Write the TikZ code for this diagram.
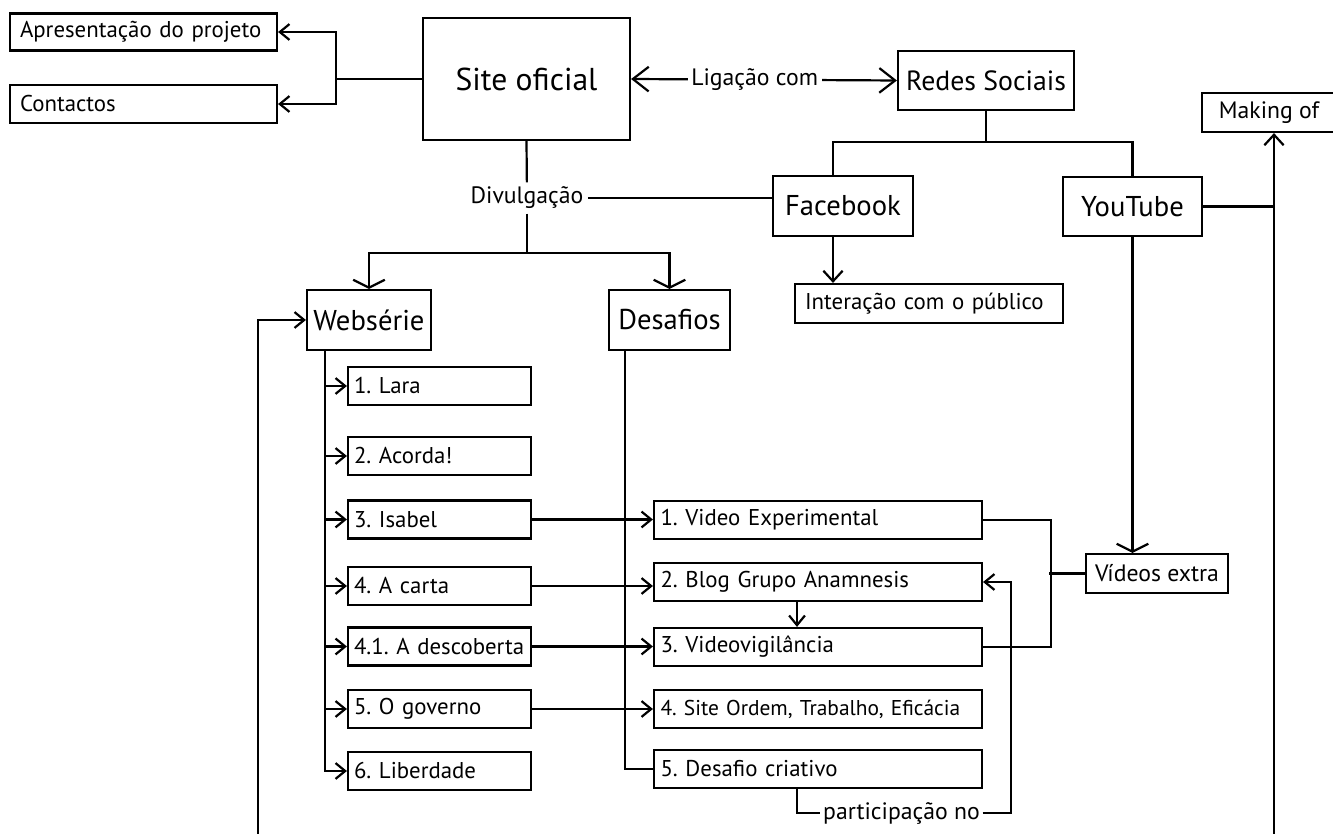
\documentclass[tikz,border=0pt]{standalone}
\usepackage{fontspec}
\setmainfont{PT Sans}
\usetikzlibrary{arrows.meta}
\frenchspacing

\begin{document}
\begin{tikzpicture}[
    x=0.02cm, y=-0.02cm,
    line width=1.25pt,
    font=\fontsize{13.5}{16}\selectfont,
    box/.style={draw, rectangle, inner sep=0pt, minimum height=0.76cm, align=center},
    leftbox/.style={box, font=\fontsize{13}{16}\selectfont, text width=#1, align=left, inner xsep=0.12cm},
    bigbox/.style={box, font=\fontsize{16.3}{20}\selectfont, minimum height=1.2cm},
    lbl/.style={inner sep=2pt, fill=white},
    edge/.style={-{Straight Barb[length=5.5pt,width=9pt]}},
    midedge/.style={-{Straight Barb[length=6pt,width=11pt]}},
    bigedge/.style={-{Straight Barb[length=9pt,width=14pt]}},
    flatedge/.style={-{Straight Barb[length=4.5pt,width=18pt]}}
]
\useasboundingbox (0,0) rectangle (1333,834);

% top row
\node[leftbox=4.94cm, inner xsep=0.2cm, minimum height=0.74cm] (apres) at (143.5,32) {Apresentação do projeto};
\node[leftbox=4.94cm, inner xsep=0.2cm] (cont) at (143.5,104) {Contactos};
\node[box, font=\fontsize{18}{22}\selectfont, minimum width=4.14cm, minimum height=2.44cm] (site) at (526.5,79) {Site oficial};
\node[bigbox, font=\fontsize{15.8}{20}\selectfont, minimum width=3.52cm, minimum height=1.18cm] (redes) at (986,80.5) {Redes Sociais};
\node[bigbox, minimum width=2.8cm] (fb) at (843,206) {Facebook};
\node[bigbox, minimum width=2.78cm, minimum height=1.18cm] (yt) at (1132.5,206.5) {YouTube};
\node[box, minimum width=2.68cm, minimum height=0.78cm] (making) at (1269,112.5) {Making of};
\node[leftbox=4.96cm, inner xsep=0.2cm, minimum height=0.78cm] (inter) at (929,303.5) {Interação com o público};
\node[lbl] (divulg) at (527,198) {Divulgação};

% webserie and desafios
\node[bigbox, minimum width=2.48cm] (web) at (369,320) {Websérie};
\node[bigbox, minimum width=2.42cm] (des) at (669.5,320) {Desafios};

\node[leftbox=3.42cm] (ep1) at (439.5,386) {1. Lara};
\node[leftbox=3.42cm] (ep2) at (439.5,456) {2. Acorda!};
\node[leftbox=3.42cm] (ep3) at (439.5,519.5) {3. Isabel};
\node[leftbox=3.42cm] (ep4) at (439.5,586) {4. A carta};
\node[leftbox=3.42cm] (ep41) at (439.5,646.5) {4.1. A descoberta};
\node[leftbox=3.42cm] (ep5) at (439.5,709) {5. O governo};
\node[leftbox=3.42cm] (ep6) at (439.5,771) {6. Liberdade};

\node[leftbox=6.3cm, inner xsep=0.13cm] (ch1) at (818,520) {1. Video Experimental};
\node[leftbox=6.3cm, inner xsep=0.13cm] (ch2) at (818,582) {2. Blog Grupo Anamnesis};
\node[leftbox=6.3cm, inner xsep=0.13cm] (ch3) at (818,647) {3. Videovigilância};
\node[leftbox=6.3cm, inner xsep=0.13cm, font=\fontsize{12.2}{15}\selectfont] (ch4) at (818,709) {4. Site Ordem, Trabalho, Eficácia};
\node[leftbox=6.3cm, inner xsep=0.13cm] (ch5) at (818,769) {5. Desafio criativo};
\node[box, minimum width=2.84cm, minimum height=0.78cm] (vext) at (1157,573.5) {Vídeos extra};
\node[inner sep=1pt] (part) at (901.5,813) {participação no};

\coordinate (loopbot) at (258,834);
\coordinate (mkbot) at (1274,834);
\coordinate (divbr) at (527,253);
\coordinate (fbk) at (1011,813);

% site oficial
\draw (site.west) -- ++(-86,0) coordinate (sitebr);
\draw[edge] (sitebr) |- (apres.east);
\draw[edge] (sitebr) |- (cont.east);
\draw[{Straight Barb[length=9pt,width=14pt]}-{Straight Barb[length=9pt,width=14pt]}]
    (site.east) -- node[lbl, pos=0.465] {Ligação com} (redes.west);
\draw (site.south) -- (divulg);
\draw (divulg.east) -- (divulg.east -| fb.west);
\draw (divulg) -- (divbr);
\draw[flatedge] (divbr) -| (web.north);
\draw[flatedge] (divbr) -| (des.north);

% redes sociais
\draw (redes.south) -- ++(0,31) -| ([xshift=-0.2cm]fb.north);
\draw (redes.south) -- ++(0,31) -| (yt.north);
\draw[midedge] ([xshift=-0.2cm]fb.south) -- ([xshift=-0.2cm]fb.south |- inter.north);
\draw (yt.east) -- (yt.east -| mkbot);
\draw[midedge] (mkbot) -- (mkbot |- making.south);
\draw[flatedge] (yt.south) -- (yt.south |- vext.north);

% webserie
\draw[edge] (loopbot) |- (web.west);
\draw[edge] ([xshift=-0.88cm]web.south) |- (ep1.west);
\draw[edge] ([xshift=-0.88cm]web.south) |- (ep2.west);
\draw[edge] ([xshift=-0.88cm]web.south) |- (ep3.west);
\draw[edge] ([xshift=-0.88cm]web.south) |- (ep4.west);
\draw[edge] ([xshift=-0.88cm]web.south) |- (ep41.west);
\draw[edge] ([xshift=-0.88cm]web.south) |- (ep5.west);
\draw[edge] ([xshift=-0.88cm]web.south) |- (ep6.west);

% desafios
\draw ([xshift=-0.89cm]des.south) |- (ch5.west);
\draw[edge] (ep3.east) -- (ep3.east -| ch1.west);
\draw[edge] (ep4.east) -- (ep4.east -| ch2.west);
\draw[edge] (ep41.east) -- (ep41.east -| ch3.west);
\draw[edge] (ep5.east) -- (ep5.east -| ch4.west);
\draw[edge] ([xshift=-0.42cm]ch2.south) -- ([xshift=-0.42cm]ch3.north);
\draw (ch1.east) -- ++(68,0) |- (ch3.east);
\draw (vext.west) -- ++(-36,0);
\draw ([xshift=-0.42cm]ch5.south) |- (part.west);
\draw[edge] (part.east) -- (fbk) |- (ch2.east);
\end{tikzpicture}
\end{document}
